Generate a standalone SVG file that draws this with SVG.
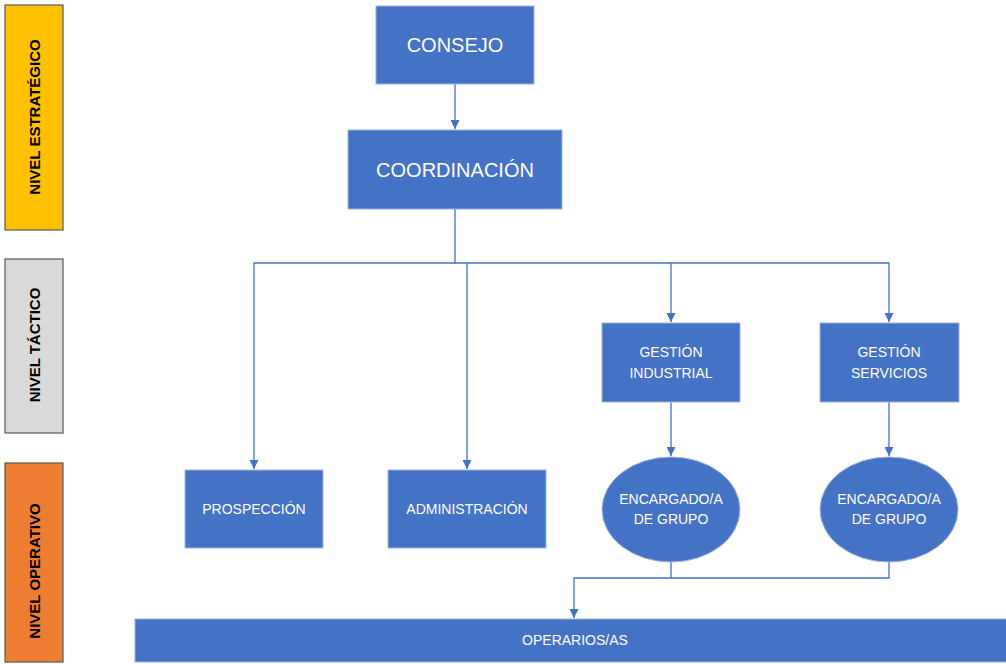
<svg xmlns="http://www.w3.org/2000/svg" width="1006" height="664" viewBox="0 0 1006 664">
<style>
.lvl{stroke:#595959;stroke-width:1.2}
.lt{font-family:"Liberation Sans",Arial,sans-serif;font-weight:bold;font-size:15px;fill:#000;text-anchor:middle;dominant-baseline:central}
.n{fill:#4472C4;stroke:#9DB3E0;stroke-width:1}
.t{font-family:"Liberation Sans",Arial,sans-serif;fill:#fff;text-anchor:middle;dominant-baseline:central;font-size:14px}
.big{font-size:20px}
.c{fill:none;stroke:#4472C4;stroke-width:1.3}
</style>
<defs>
<marker id="ah" viewBox="0 0 10 10" refX="10" refY="5" markerWidth="9" markerHeight="9" markerUnits="userSpaceOnUse" orient="auto">
<path d="M0,0 L10,5 L0,10 z" fill="#4472C4"/>
</marker>
</defs>
<rect width="1006" height="664" fill="#fff"/>
<g id="nivel-estrategico">
<rect class="lvl" x="5" y="5" width="58" height="225" fill="#FFC000"/>
<text class="lt" transform="translate(34,117) rotate(-90)">NIVEL ESTRATÉGICO</text>
</g>
<g id="nivel-tactico">
<rect class="lvl" x="5" y="259" width="58" height="174" fill="#D9D9D9"/>
<text class="lt" transform="translate(34,345) rotate(-90)">NIVEL TÁCTICO</text>
</g>
<g id="nivel-operativo">
<rect class="lvl" x="5" y="463" width="58" height="199" fill="#ED7D31"/>
<text class="lt" transform="translate(34,571) rotate(-90)">NIVEL OPERATIVO</text>
</g>
<g id="connectors">
<path class="c" d="M455,84 V129" marker-end="url(#ah)"/>
<path class="c" d="M455,209 V263 H254 V469" marker-end="url(#ah)"/>
<path class="c" d="M455,263 H889 V322" marker-end="url(#ah)"/>
<path class="c" d="M467,263 V469" marker-end="url(#ah)"/>
<path class="c" d="M671,263 V322" marker-end="url(#ah)"/>
<path class="c" d="M671,402 V456" marker-end="url(#ah)"/>
<path class="c" d="M889,402 V456" marker-end="url(#ah)"/>
<path class="c" d="M671,562 V578 H574 V618" marker-end="url(#ah)"/>
<path class="c" d="M889,562 V578 H671"/>
</g>
<g id="consejo">
<rect class="n" x="376" y="6" width="158" height="78"/>
<text class="t big" x="455" y="45">CONSEJO</text>
</g>
<g id="coordinacion">
<rect class="n" x="348" y="130" width="214" height="79"/>
<text class="t big" x="455" y="170">COORDINACIÓN</text>
</g>
<g id="prospeccion">
<rect class="n" x="185" y="470" width="138" height="78"/>
<text class="t" x="254" y="509">PROSPECCIÓN</text>
</g>
<g id="administracion">
<rect class="n" x="388" y="470" width="158" height="78"/>
<text class="t" x="467" y="509">ADMINISTRACIÓN</text>
</g>
<g id="gestion-industrial">
<rect class="n" x="602" y="323" width="138" height="79"/>
<text class="t" x="671" y="352">GESTIÓN</text>
<text class="t" x="671" y="373">INDUSTRIAL</text>
</g>
<g id="gestion-servicios">
<rect class="n" x="820" y="323" width="139" height="79"/>
<text class="t" x="889" y="352">GESTIÓN</text>
<text class="t" x="889" y="373">SERVICIOS</text>
</g>
<g id="encargado-industrial">
<ellipse class="n" cx="671" cy="509.5" rx="69" ry="52.5"/>
<text class="t" x="671" y="499">ENCARGADO/A</text>
<text class="t" x="671" y="519">DE GRUPO</text>
</g>
<g id="encargado-servicios">
<ellipse class="n" cx="889" cy="509.5" rx="69" ry="52.5"/>
<text class="t" x="889" y="499">ENCARGADO/A</text>
<text class="t" x="889" y="519">DE GRUPO</text>
</g>
<g id="operarios">
<rect class="n" x="135" y="619" width="872" height="43"/>
<text class="t" x="575" y="640">OPERARIOS/AS</text>
</g>
</svg>
